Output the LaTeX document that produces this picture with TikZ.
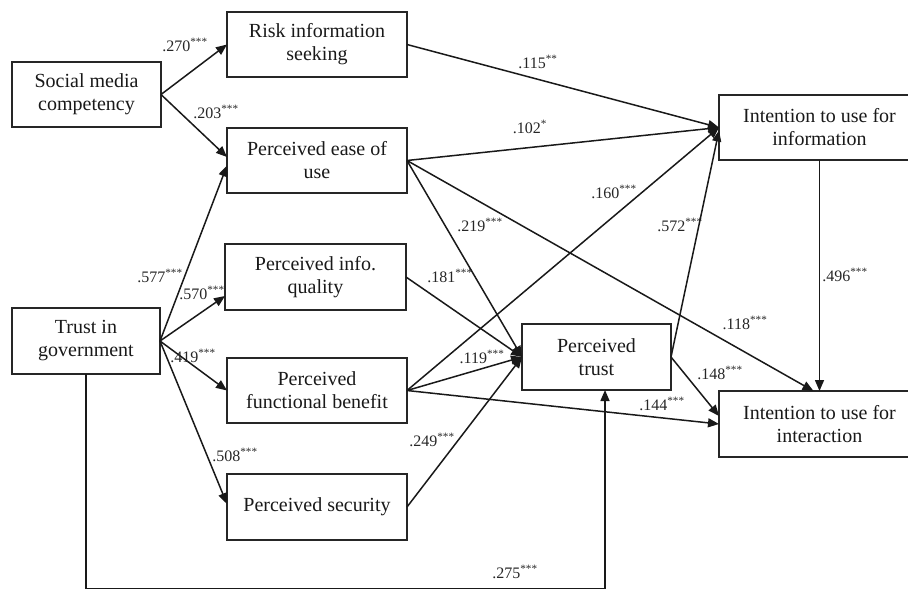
\documentclass[tikz,border=0pt]{standalone}
\usepackage{fontspec}
\setmainfont{Liberation Serif}
\usetikzlibrary{arrows.meta}
\begin{document}
\begin{tikzpicture}[x=1pt,y=-1pt,
  box/.style={draw=black!85, line width=1.5pt, outer sep=0pt, inner sep=2pt, align=center,
    font=\fontsize{20}{23}\selectfont, text=black!90},
  lab/.style={font=\fontsize{16}{18}\selectfont, inner sep=0pt, text=black!85},
  arr/.style={line width=1.5pt, black!90, -{Triangle[length=11pt,width=9pt]}}]
\path[use as bounding box] (0,0) rectangle (908,590);
\clip (0,0) rectangle (908,590);
% boxes
\node[box, minimum width=149pt, minimum height=65pt] (smc) at (86.5,94.5) {Social media\\competency};
\node[box, minimum width=180pt, minimum height=65pt] (ris) at (317,44.5) {Risk information\\seeking};
\node[box, minimum width=180pt, minimum height=65pt] (peou) at (317,160.5) {Perceived ease of\\use};
\node[box, minimum width=148pt, minimum height=66pt] (tig) at (86,341) {Trust in\\government};
\node[box, minimum width=181pt, minimum height=66pt] (piq) at (315.5,277) {Perceived info.\\quality};
\node[box, minimum width=180pt, minimum height=65pt] (pfb) at (317,390.5) {Perceived\\functional benefit};
\node[box, minimum width=180pt, minimum height=66pt] (ps) at (317,507) {Perceived security};
\node[box, minimum width=201pt, minimum height=65pt] (iui) at (819.5,127.5) {Intention to use for\\information};
\node[box, minimum width=149pt, minimum height=66pt] (pt) at (596.5,357) {Perceived\\trust};
\node[box, minimum width=201pt, minimum height=66pt] (iux) at (819.5,424) {Intention to use for\\interaction};
\coordinate (bot) at (0,588.5);
% connectors
\draw[arr] (smc.east) -- (ris.west);
\draw[arr] (smc.east) -- ([yshift=3.5pt]peou.west);
\draw[arr] (tig.east) -- ([yshift=-5pt]peou.west);
\draw[arr] (tig.east) -- ([yshift=-19pt]piq.west);
\draw[arr] (tig.east) -- (pfb.west);
\draw[arr] (tig.east) -- ([yshift=3pt]ps.west);
\draw[arr] (ris.east) -- (iui.west);
\draw[arr] (peou.east) -- (iui.west);
\draw[arr] (peou.east) -- (pt.west);
\draw[arr] (peou.east) -- ([xshift=-6pt]iux.north);
\draw[arr] (piq.east) -- (pt.west);
\draw[arr] (pfb.east) -- (iui.west);
\draw[arr] (pfb.east) -- (pt.west);
\draw[arr] (pfb.east) -- (iux.west);
\draw[arr] (ps.east) -- (pt.west);
\draw[arr] (pt.east) -- ([yshift=-3pt]iui.west);
\draw[arr] (pt.east) -- ([yshift=8pt]iux.west);
\draw[arr] (iui.south) -- (iux.north);
\draw[arr] (tig.south) |- ([xshift=8.5pt]pt.south |- bot) -- ([xshift=8.5pt]pt.south);
% labels
\node[lab] (l1) at (185,45) {.270\textsuperscript{***}};
\node[lab] (l2) at (216,112) {.203\textsuperscript{***}};
\node[lab] (l3) at (538,62) {.115\textsuperscript{**}};
\node[lab] (l4) at (530,127) {.102\textsuperscript{*}};
\node[lab] (l5) at (614,192) {.160\textsuperscript{***}};
\node[lab] (l6) at (160,276) {.577\textsuperscript{***}};
\node[lab] (l7) at (202,293) {.570\textsuperscript{***}};
\node[lab] (l8) at (193,356) {.419\textsuperscript{***}};
\node[lab] (l9) at (450,276) {.181\textsuperscript{***}};
\node[lab] (l10) at (480,225) {.219\textsuperscript{***}};
\node[lab] (l11) at (680,225) {.572\textsuperscript{***}};
\node[lab] (l12) at (845,275) {.496\textsuperscript{***}};
\node[lab] (l13) at (745,323) {.118\textsuperscript{***}};
\node[lab] (l14) at (482,357) {.119\textsuperscript{***}};
\node[lab] (l15) at (720,373) {.148\textsuperscript{***}};
\node[lab] (l16) at (662,404) {.144\textsuperscript{***}};
\node[lab] (l17) at (432,440) {.249\textsuperscript{***}};
\node[lab] (l18) at (235,455) {.508\textsuperscript{***}};
\node[lab] (l19) at (515,572) {.275\textsuperscript{***}};
\end{tikzpicture}
\end{document}
